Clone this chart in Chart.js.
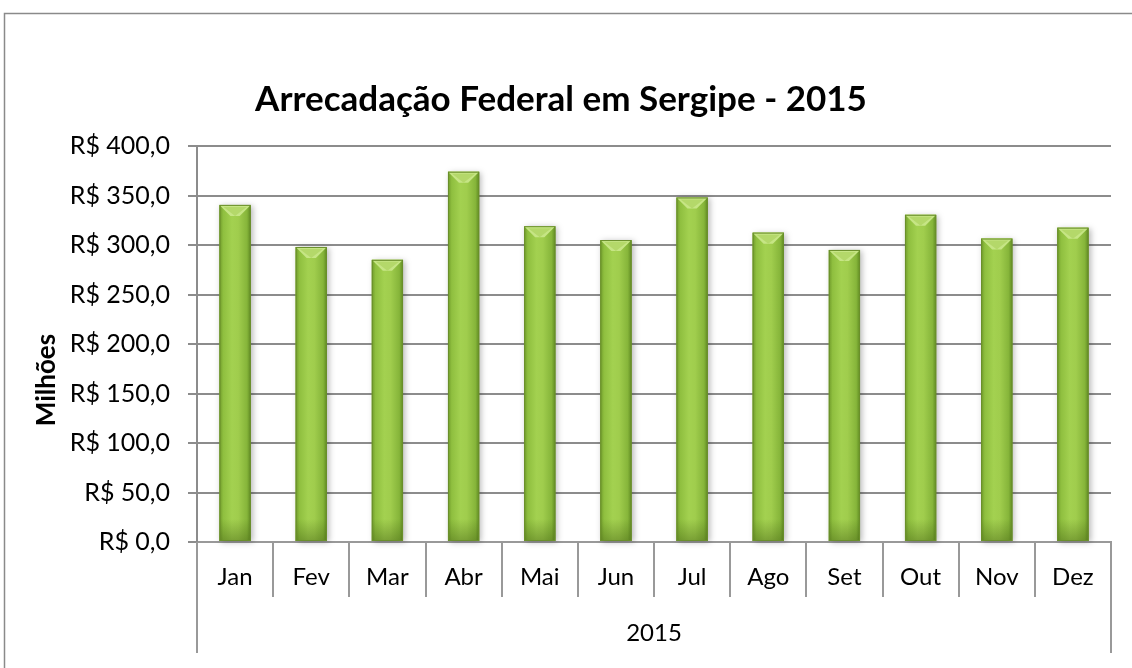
<!DOCTYPE html>
<html>
<head>
<meta charset="utf-8">
<script src="https://cdn.jsdelivr.net/npm/chart.js@4.4.1/dist/chart.umd.min.js"></script>
<style>
  html, body { margin: 0; padding: 0; background: #fff; }
  #wrap { width: 1132px; height: 668px; position: relative; }
</style>
</head>
<body>
<div id="wrap"><canvas id="chart" width="1132" height="668"></canvas></div>
<script>
const months = ["Jan", "Fev", "Mar", "Abr", "Mai", "Jun", "Jul", "Ago", "Set", "Out", "Nov", "Dez"];
const arrecadacao = [340.5, 298, 285, 374, 319, 305, 348, 312.5, 295, 330.5, 306.5, 317.5];
const groupLabel = "2015";
const yTitle = "Milhões";
const yMin = 0;
const yMax = 400;
const yStep = 50;

const FONT = "Lato, 'Open Sans', sans-serif";

function brl(v) {
  return "R$ " + v.toFixed(1).replace(".", ",");
}

// frame, x-axis category separators, y title
const framePlugin = {
  id: "frame",
  beforeDraw(chart) {
    const ctx = chart.ctx;
    ctx.save();
    ctx.strokeStyle = "#8a8a8a";
    ctx.lineWidth = 1.5;
    ctx.strokeRect(4.5, 13.5, 1300, 800);
    ctx.restore();
  },
  afterDraw(chart) {
    const ctx = chart.ctx;
    const x = chart.scales.x;
    const n = months.length;
    const step = x.width / n;
    const top = chart.chartArea.bottom;
    ctx.save();
    ctx.strokeStyle = "#999";
    ctx.lineWidth = 2;
    ctx.beginPath();
    for (let i = 0; i <= n; i++) {
      const px = Math.round(x.left + i * step);
      ctx.moveTo(px, top);
      ctx.lineTo(px, top + ((i === 0 || i === n) ? 111 : 55));
    }
    ctx.stroke();
    // y axis title (Excel puts it a bit lower than centre)
    ctx.translate(47, 380);
    ctx.rotate(-Math.PI / 2);
    ctx.fillStyle = "#000";
    ctx.font = "bold 26px " + FONT;
    ctx.textAlign = "center";
    ctx.textBaseline = "middle";
    ctx.fillText(yTitle, 0, 0);
    ctx.restore();
  },
};

// cylinder-ish bars: gradient body + bevelled top
const barLook = {
  id: "barLook",
  afterDatasetsDraw(chart) {
    const ctx = chart.ctx;
    const meta = chart.getDatasetMeta(0);
    meta.data.forEach((bar) => {
      const w = bar.width;
      const l = bar.x - w / 2;
      const r = bar.x + w / 2;
      const t = bar.y;
      const b = bar.base;
      ctx.save();
      ctx.shadowColor = "rgba(0,0,0,0.28)";
      ctx.shadowBlur = 6;
      ctx.shadowOffsetX = 2;
      ctx.shadowOffsetY = 1;
      const g = ctx.createLinearGradient(l, 0, r, 0);
      g.addColorStop(0, "#6f9a2a");
      g.addColorStop(0.12, "#8fbf3f");
      g.addColorStop(0.4, "#a3d150");
      g.addColorStop(0.6, "#a0cd4d");
      g.addColorStop(0.88, "#86b53a");
      g.addColorStop(1, "#5f8a22");
      ctx.fillStyle = g;
      ctx.fillRect(l, t, w, b - t);
      ctx.restore();
      ctx.save();
      const gv = ctx.createLinearGradient(0, b - 22, 0, b);
      gv.addColorStop(0, "rgba(70,100,20,0)");
      gv.addColorStop(1, "rgba(70,100,20,0.45)");
      ctx.fillStyle = gv;
      ctx.fillRect(l, b - 22, w, 22);
      const d = 11;
      ctx.fillStyle = "#c6e585";
      ctx.beginPath();
      ctx.moveTo(l, t);
      ctx.lineTo(r, t);
      ctx.lineTo(r - d, t + d);
      ctx.lineTo(bar.x, t + d);
      ctx.lineTo(l + d, t + d);
      ctx.closePath();
      ctx.fill();
      ctx.fillStyle = "#b4d86a";
      ctx.beginPath();
      ctx.moveTo(l + 4, t + 2);
      ctx.lineTo(r - 4, t + 2);
      ctx.lineTo(bar.x, t + d);
      ctx.closePath();
      ctx.fill();
      ctx.strokeStyle = "#6a8f2b";
      ctx.lineWidth = 1;
      ctx.strokeRect(l + 0.5, t + 0.5, w - 1, b - t - 1);
      ctx.restore();
    });
  },
};

new Chart(document.getElementById("chart"), {
  type: "bar",
  data: {
    labels: months,
    datasets: [
      {
        data: arrecadacao,
        backgroundColor: "#9cc84a",
        borderWidth: 0,
        barPercentage: 0.41,
        categoryPercentage: 1,
      },
    ],
  },
  options: {
    responsive: false,
    animation: false,
    layout: { padding: { left: 11, right: 21, top: 0, bottom: 0 } },
    plugins: {
      legend: { display: false },
      tooltip: { enabled: false },
      title: {
        display: true,
        text: "Arrecadação Federal em Sergipe - 2015",
        color: "#000",
        font: { family: FONT, size: 35, weight: "bold" },
        padding: { top: 79, bottom: 25 },
      },
    },
    scales: {
      x: {
        grid: { display: false, drawTicks: false },
        border: { display: true, color: "#999", width: 2 },
        ticks: {
          color: "#000",
          font: { family: FONT, size: 24 },
          padding: 21,
          maxRotation: 0,
        },
        title: {
          display: true,
          text: groupLabel,
          color: "#000",
          font: { family: FONT, size: 24 },
          padding: { top: 0, bottom: 20 },
        },
        afterFit(scale) {
          scale.height = 126;
        },
      },
      y: {
        min: yMin,
        max: yMax,
        ticks: {
          stepSize: yStep,
          color: "#000",
          font: { family: FONT, size: 25 },
          padding: 18,
          callback: (v) => brl(v),
        },
        grid: { color: "#8c8c8c", lineWidth: 2, tickLength: 9 },
        border: { display: true, color: "#8c8c8c", width: 2 },
        afterFit(scale) {
          scale.width = 186;
        },
      },
    },
  },
  plugins: [framePlugin, barLook],
});
</script>
</body>
</html>
